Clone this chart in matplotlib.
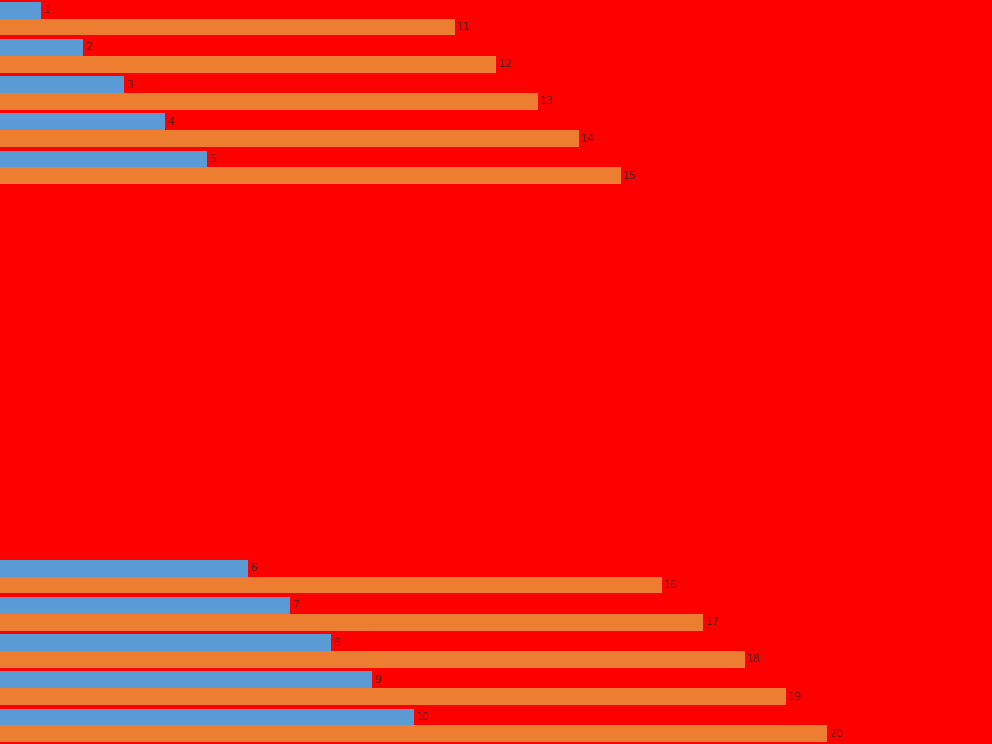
"""Grouped horizontal bars on a red background, with a gap of empty categories."""

import matplotlib

matplotlib.use("Agg")

import matplotlib.pyplot as plt
import numpy as np

# 20 category slots; slots 5..14 carry no data
categories = [f"c{i}" for i in range(20)]
series_a = [1, 2, 3, 4, 5] + [np.nan] * 10 + [6, 7, 8, 9, 10]
series_b = [11, 12, 13, 14, 15] + [np.nan] * 10 + [16, 17, 18, 19, 20]

BG = "#ff0000"
BLUE = "#5b9bd5"
ORANGE = "#ed7d31"
LABEL = "#5a1a1a"


def _bars_with_labels(ax, y, values, color):
    values = np.asarray(values, dtype=float)
    ok = ~np.isnan(values)
    ax.barh(y[ok], values[ok], height=0.45, color=color, linewidth=0)
    for yi, v in zip(y[ok], values[ok]):
        ax.annotate(
            f"{v:g}",
            (v, yi),
            xytext=(1.5, 0),
            textcoords="offset points",
            va="center",
            ha="left",
            fontsize=8,
            color=LABEL,
        )


def main():
    fig = plt.figure(figsize=(9.92, 7.44), dpi=100)
    fig.patch.set_facecolor(BG)
    ax = fig.add_axes([0, 0, 1, 1])
    ax.set_facecolor(BG)

    y = np.arange(len(categories), dtype=float)
    _bars_with_labels(ax, y - 0.225, series_a, BLUE)
    _bars_with_labels(ax, y + 0.225, series_b, ORANGE)

    ax.set_xlim(0, 23.98)
    ax.set_ylim(len(categories) - 0.5, -0.5)
    ax.set_axis_off()

    fig.savefig("out.png", dpi=100, facecolor=BG)
    plt.close(fig)


if __name__ == "__main__":
    main()
